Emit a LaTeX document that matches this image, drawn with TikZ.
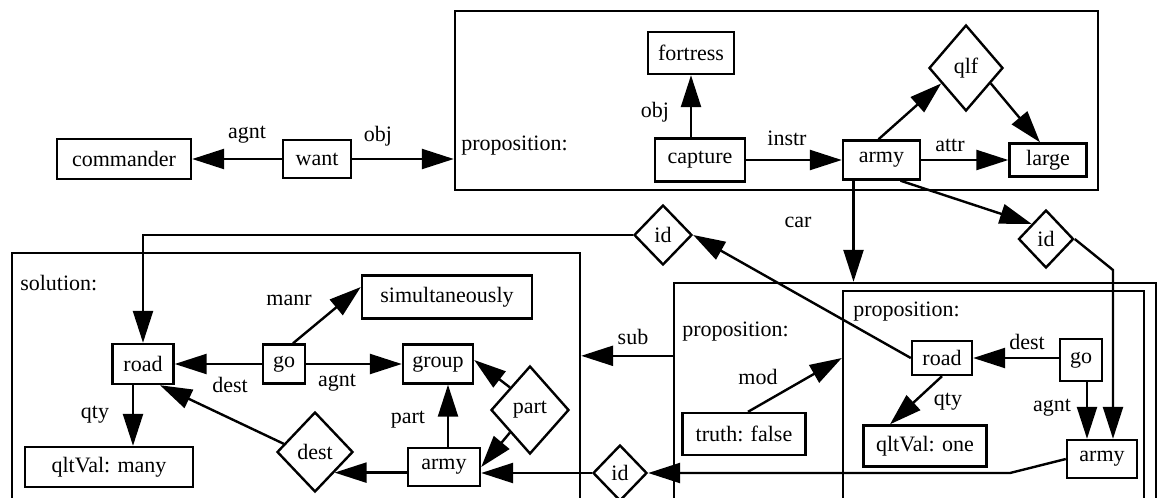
\documentclass[tikz,border=0pt]{standalone}
\usepackage{fontspec}
\setmainfont{Liberation Serif}
\usetikzlibrary{arrows.meta,shapes.geometric,calc}
\begin{document}
\begin{tikzpicture}[x=0.75pt,y=-0.75pt,
  every node/.style={font=\fontsize{16.5}{18}\selectfont},
  box/.style={draw, rectangle, line width=1.8pt, inner sep=0pt},
  ctx/.style={draw, rectangle, line width=1.8pt, inner sep=0pt},
  rel/.style={draw, diamond, line width=1.8pt, inner sep=0pt},
  lbl/.style={inner sep=1pt},
  ctxlbl/.style={inner sep=0pt, anchor=west},
  link/.style={line width=1.8pt},
  arr/.style={link, -{Triangle[length=24pt,width=15pt]}},
]
\useasboundingbox (0,0) rectangle (1161,497);
\clip (0,0) rectangle (1161,497);

% ---------- contexts ----------
\node[ctx, minimum width=482.25pt, minimum height=134.25pt] (top) at (776.5,100.5) {};
\node[ctxlbl] at (461,146) {proposition:};
\node[ctx, minimum width=426pt, minimum height=215.25pt] (solbox) at (296,396.5) {};
\node[ctxlbl] at (20,283) {solution:};
\node[ctx, minimum width=361.5pt, minimum height=192.75pt] (notbox) at (915,411.5) {};
\node[ctxlbl] at (682,332) {proposition:};
\node[ctx, minimum width=225.75pt, minimum height=186.75pt] (propin) at (993.5,415.5) {};
\node[ctxlbl] at (853,312) {proposition:};

% ---------- concepts and relations ----------
\node[box, minimum width=100.5pt, minimum height=30pt] (cmd) at (124,159) {commander};
\node[box, minimum width=51pt, minimum height=28.5pt] (want) at (317,159) {want};

\node[box, minimum width=64.5pt, minimum height=31.5pt] (fortress) at (691,53) {fortress};
\node[box, minimum width=67.5pt, minimum height=32.25pt] (capture) at (700,160) {capture};
\node[box, minimum width=57.75pt, minimum height=29.25pt] (army1) at (881.5,160) {army};
\node[rel, minimum width=55.5pt, minimum height=64.5pt] (qlf) at (966,68) {qlf};
\node[box, minimum width=57.75pt, minimum height=24.75pt] (large) at (1048,160) {large};

\node[rel, minimum width=41.25pt, minimum height=43.5pt] (idR) at (1046,239) {id};
\node[rel, minimum width=43.5pt, minimum height=45pt] (idL) at (663,235) {id};
\node[rel, minimum width=40.5pt, minimum height=42pt] (idB) at (620,473) {id};

\node[box, minimum width=45pt, minimum height=25.5pt] (road2) at (942,358) {road};
\node[box, minimum width=31.5pt, minimum height=31.5pt] (go2) at (1081,360) {go};
\node[box, minimum width=92.25pt, minimum height=30.75pt] (q1) at (925,446) {qltVal: one};
\node[box, minimum width=52.5pt, minimum height=28.5pt] (army2) at (1102,459) {army};
\node[box, minimum width=92.25pt, minimum height=31.5pt] (truth) at (744,434) {truth: false};

\node[box, minimum width=45.75pt, minimum height=30pt] (road1) at (143,364) {road};
\node[box, minimum width=31.5pt, minimum height=29.25pt] (go1) at (284,364) {go};
\node[box, minimum width=52.5pt, minimum height=29.25pt] (group) at (438,364) {group};
\node[box, minimum width=127.5pt, minimum height=32.25pt] (simult) at (447,297) {simultaneously};
\node[box, minimum width=54pt, minimum height=28.5pt] (solarmy) at (444,467) {army};
\node[rel, minimum width=58.5pt, minimum height=66pt] (part) at (530,410) {part};
\node[rel, minimum width=57pt, minimum height=60pt] (dest) at (315,452) {dest};
\node[box, minimum width=126pt, minimum height=30pt] (qm) at (109,467) {qltVal: many};

% ---------- arc labels ----------
\node[lbl] at (247,135) {agnt};
\node[lbl] at (378,136) {obj};
\node[lbl] at (655,112) {obj};
\node[lbl] at (787,138) {instr};
\node[lbl] at (950,145) {attr};
\node[lbl] at (798,222) {car};
\node[lbl] at (633,337) {sub};
\node[lbl] at (758,377) {mod};
\node[lbl] at (1027,342) {dest};
\node[lbl] at (948,402) {qty};
\node[lbl] at (1052,408) {agnt};
\node[lbl] at (289,300) {manr};
\node[lbl] at (230,385) {dest};
\node[lbl] at (337,383) {agnt};
\node[lbl] at (408,420) {part};
\node[lbl] at (95,415) {qty};

% ---------- helper points ----------
\coordinate (carTop) at ($(army1.south)+(-28,0)$);
\coordinate (bendR) at (1113,270);
\coordinate (subR) at ($(notbox.north west)+(0,74)$);
\coordinate (goA) at ($(go2.south)+(6,0)$);
\coordinate (bendB) at (1010,473);
\coordinate (saN) at ($(solarmy.north)+(4,0)$);
\coordinate (rq) at ($(road1.south)+(-10,0)$);

% ---------- arcs ----------
\draw[arr] (want.west) -- (cmd.east);
\draw[arr] (want.east) -- (want.east -| top.west);
\draw[arr] (capture.north -| fortress.south) -- (fortress.south);
\draw[arr] (capture.east) -- (capture.east -| army1.west);
\draw[arr] (army1.east) -- (army1.east -| large.west);
\draw[arr] ($(army1.north)+(-3,0)$) -- ($(qlf.west)!0.35!(qlf.south)$);
\draw[arr] ($(qlf.east)!0.35!(qlf.south)$) -- ($(large.north)+(-8,0)$);
\draw[arr] (carTop) -- (carTop |- notbox.north);
\draw[arr] ($(army1.south)+(19,0)$) -- (idR.north west);
\draw[arr] (idR.east) -- (bendR) -- (bendR |- army2.north);
\draw[arr] (road2.west) -- (idL.east);
\draw[arr] (idL.west) -| (road1.north);
\draw[arr] (subR) -- (subR -| solbox.east);
\draw[arr] ($(truth.north)+(4,0)$) -- (propin.west |- road2.west);
\draw[arr] (road2.east -| go2.west) -- (road2.east);
\draw[arr] (road2.south) -- ($(q1.north)+(-35,0)$);
\draw[arr] (goA) -- (goA |- army2.north);
\draw[arr] (army2.west) -- (bendB) -- (idB.east);
\draw[arr] (idB.west) -- (idB.west -| solarmy.east);
\draw[arr] (part.north west) -- ($(group.east)+(0,-4)$);
\draw[arr] (part.south west) -- (solarmy.east);
\draw[arr] (saN) -- (saN |- group.south);
\draw[arr] (solarmy.west |- dest.south east) -- (dest.south east);
\draw[arr] ($(dest.west)!0.2!(dest.north)$) -- ($(road1.south)+(17,0)$);
\draw[arr] (go1.west) -- (road1.east);
\draw[arr] (go1.east) -- (group.west);
\draw[arr] ($(go1.north)+(9,0)$) -- ($(simult.west)+(0,-10)$);
\draw[arr] (rq) -- (rq |- qm.north);
\end{tikzpicture}
\end{document}
